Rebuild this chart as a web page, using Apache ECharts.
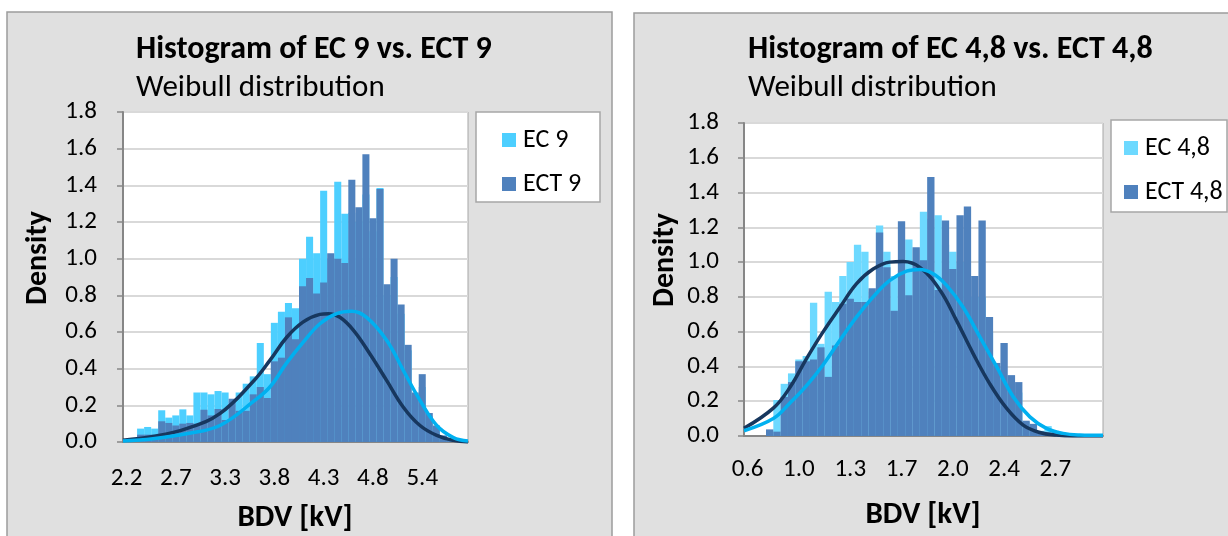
<!DOCTYPE html>
<html>
<head>
<meta charset="utf-8">
<script src="https://cdn.jsdelivr.net/npm/echarts@6/dist/echarts.min.js"></script>
<style>
  html, body { margin: 0; padding: 0; background: #fff; }
  #main { width: 1228px; height: 536px; }
</style>
</head>
<body>
<div id="main"></div>
<script>
// ---- left chart: EC 9 vs ECT 9 ----
var binsEC9 = ['2.2','2.3','2.4','2.4','2.5','2.6','2.7','2.7','2.8','2.9','3.0','3.0','3.1','3.2','3.3','3.3','3.4',
  '3.5','3.6','3.6','3.7','3.8','3.9','3.9','4.0','4.1','4.2','4.2','4.3','4.4','4.5','4.5','4.6','4.7','4.8','4.8',
  '4.9','5.0','5.1','5.2','5.2','5.3','5.4','5.5','5.5','5.6','5.7','5.8','5.8'];
var ec9 = [0.01,0.02,0.073,0.082,0.073,0.173,0.133,0.145,0.178,0.145,0.27,0.27,0.26,0.278,0.27,0.22,0.27,
  0.318,0.358,0.54,0.37,0.65,0.71,0.758,0.73,1.0,1.12,1.03,1.37,1.0,1.42,1.245,1.25,1.2,1.35,1.15,
  1.385,0.8,0.9,0.7,0.5,0.25,0.3,0.14,0.08,0.03,0.015,0.008,0.004];
var ect9 = [0.01,0.02,0.04,0.04,0.04,0.113,0.104,0.09,0.1,0.104,0.1,0.176,0.145,0.18,0.12,0.236,0.17,
  0.17,0.26,0.30,0.24,0.44,0.46,0.68,0.56,0.85,0.895,0.81,0.87,1.03,1.0,0.976,1.43,1.28,1.57,1.22,
  1.38,0.86,1.0,0.75,0.53,0.27,0.37,0.158,0.09,0.036,0.018,0.01,0.005];
var fitEC9 = [[2.162,0.005],[2.485,0.018],[2.844,0.045],[3.203,0.09],[3.561,0.22],[3.741,0.30],[3.92,0.43],
  [4.10,0.545],[4.279,0.645],[4.458,0.70],[4.62,0.713],[4.781,0.68],[4.996,0.555],[5.176,0.39],[5.355,0.227],
  [5.535,0.09],[5.714,0.024],[5.871,0.005]];
var fitECT9 = [[2.162,0.01],[2.485,0.03],[2.844,0.073],[3.203,0.155],[3.561,0.33],[3.741,0.445],[3.92,0.57],
  [4.10,0.655],[4.279,0.696],[4.369,0.70],[4.494,0.68],[4.638,0.61],[4.817,0.48],[4.996,0.336],[5.176,0.19],
  [5.355,0.09],[5.535,0.036],[5.714,0.009],[5.871,0.0]];
var edgesEC9 = [2.162, 5.871];

// ---- right chart: EC 4,8 vs ECT 4,8 ----
var binsEC48 = ['0.6','0.7','0.7','0.8','0.8','0.9','0.9','1.0','1.0','1.1','1.1','1.2','1.2','1.3','1.3','1.4','1.4',
  '1.5','1.5','1.6','1.6','1.7','1.7','1.8','1.8','1.9','1.9','2.0','2.0','2.1','2.1','2.2','2.2','2.3','2.3','2.4',
  '2.4','2.5','2.5','2.6','2.6','2.7','2.7','2.8','2.8','2.9','2.9','3.0','3.0'];
var ec48 = [0,0,0,0.03,0.207,0.30,0.36,0.44,0.46,0.767,0.53,0.83,0.77,0.92,1.0,1.10,1.06,
  0.83,1.21,1.06,0.92,0.95,1.13,1.0,1.29,1.25,1.27,1.1,1.06,1.0,0.9,0.8,0.8,0.6,0.4,0.35,
  0.3,0.25,0.08,0.05,0.03,0.057,0.03,0.02,0.01,0.005,0.003,0,0];
var ect48 = [0,0,0,0.038,0.025,0.225,0.31,0.43,0.43,0.44,0.51,0.34,0.52,0.76,0.79,0.77,0.77,
  0.85,1.17,0.97,0.72,1.235,0.81,1.086,1.01,1.49,0.84,1.24,0.96,1.27,1.32,0.92,1.24,0.685,0.42,0.535,
  0.35,0.31,0.088,0.07,0.025,0.02,0.025,0.01,0.005,0,0,0,0];
var fitEC48 = [[0.575,0.03],[0.777,0.10],[0.892,0.19],[1.006,0.29],[1.121,0.41],[1.236,0.55],[1.351,0.685],
  [1.465,0.80],[1.58,0.895],[1.695,0.948],[1.787,0.958],[1.879,0.933],[1.971,0.866],[2.085,0.74],[2.2,0.57],
  [2.315,0.40],[2.43,0.226],[2.545,0.11],[2.659,0.044],[2.774,0.015],[2.889,0.006],[3.049,0.004]];
var fitECT48 = [[0.575,0.044],[0.777,0.16],[0.892,0.28],[1.006,0.445],[1.121,0.6],[1.236,0.74],[1.351,0.876],
  [1.465,0.96],[1.58,1.0],[1.672,1.004],[1.787,0.97],[1.925,0.84],[2.039,0.665],[2.154,0.474],[2.269,0.30],
  [2.384,0.16],[2.499,0.063],[2.613,0.02],[2.728,0.005],[2.843,0.0],[3.049,0]];
var edgesEC48 = [0.575, 3.049];

var FONT = 'Carlito, Lato, sans-serif';
var axisGray = '#868686';

var chart = echarts.init(document.getElementById('main'));

function catAxis(grid, data, margin) {
  return {
    type: 'category', gridIndex: grid, data: data,
    axisLine: { lineStyle: { color: axisGray, width: 2 } },
    axisTick: { interval: 0, length: 6, lineStyle: { color: axisGray, width: 1.5 } },
    axisLabel: { interval: 6, margin: margin, color: '#000', fontSize: 25, fontFamily: FONT },
    splitLine: { show: false }
  };
}
function fitAxis(grid, edges) {
  return { type: 'value', gridIndex: grid, min: edges[0], max: edges[1], show: false };
}
function densAxis(grid, margin) {
  return {
    type: 'value', gridIndex: grid, min: 0, max: 1.8, interval: 0.2,
    axisLine: { show: true, lineStyle: { color: axisGray, width: 2 } },
    axisTick: { show: true, length: 6, lineStyle: { color: axisGray, width: 1.5 } },
    axisLabel: { margin: margin, color: '#000', fontSize: 25, fontFamily: FONT,
      formatter: function (v) { return v.toFixed(1); } },
    splitLine: { lineStyle: { color: '#D9D9D9', width: 2 } }
  };
}
function bars(name, data, x, y, color) {
  return { name: name, type: 'bar', xAxisIndex: x, yAxisIndex: y, data: data,
    barWidth: '100%', barGap: '-100%', itemStyle: { color: color } };
}
function fit(name, data, x, y, color) {
  return { name: name, type: 'line', xAxisIndex: x, yAxisIndex: y, data: data, smooth: 0.4,
    showSymbol: false, lineStyle: { color: color, width: 3.5 }, z: 3 };
}
function txt(x, y, text, size, weight, rot) {
  return { type: 'text', x: x, y: y, rotation: rot || 0, z: 100,
    style: { text: text, fill: '#000', font: weight + ' ' + size + 'px ' + FONT,
      textAlign: rot ? 'center' : 'left', textVerticalAlign: 'middle' } };
}
function legend(names, left, top) {
  return { data: names, orient: 'vertical', left: left, top: top, itemGap: 18, z: 60,
    itemWidth: 14, itemHeight: 14, icon: 'rect', selectedMode: false,
    textStyle: { fontSize: 26, fontFamily: FONT, color: '#000', padding: [0, 0, 0, 2] } };
}

chart.setOption({
  animation: false,
  backgroundColor: '#fff',
  graphic: [
    { type: 'rect', shape: { x: 7, y: 12, width: 605, height: 540 }, z: -10,
      style: { fill: '#E0E0E0', stroke: '#9C9C9C', lineWidth: 1.5 } },
    { type: 'rect', shape: { x: 634, y: 13, width: 600, height: 540 }, z: -10,
      style: { fill: '#E0E0E0', stroke: '#9C9C9C', lineWidth: 1.5 } },
    { type: 'rect', shape: { x: 476, y: 112, width: 124, height: 90 }, z: 50,
      style: { fill: '#fff', stroke: '#A6A6A6', lineWidth: 1.5 } },
    { type: 'rect', shape: { x: 1111, y: 120, width: 116, height: 92 }, z: 50,
      style: { fill: '#fff', stroke: '#A6A6A6', lineWidth: 1.5 } },
    txt(136, 50, 'Histogram of EC 9 vs. ECT 9', 32, 'bold'),
    txt(136, 88, 'Weibull distribution', 31, 'normal'),
    txt(748, 50, 'Histogram of EC 4,8 vs. ECT 4,8', 32, 'bold'),
    txt(748, 88, 'Weibull distribution', 31, 'normal'),
    txt(38, 258, 'Density', 30, 'bold', Math.PI / 2),
    txt(665, 260, 'Density', 30, 'bold', Math.PI / 2),
    { type: 'text', x: 295, y: 518, z: 100, style: { text: 'BDV [kV]', fill: '#000',
      font: 'bold 31px ' + FONT, textAlign: 'center', textVerticalAlign: 'middle' } },
    { type: 'text', x: 923, y: 515, z: 100, style: { text: 'BDV [kV]', fill: '#000',
      font: 'bold 31px ' + FONT, textAlign: 'center', textVerticalAlign: 'middle' } }
  ],
  legend: [
    legend(['EC 9', 'ECT 9'], 497, 122),
    legend(['EC 4,8', 'ECT 4,8'], 1119, 130)
  ],
  grid: [
    { left: 123, top: 112, width: 345, height: 330, show: true, backgroundColor: '#fff',
      borderColor: '#A6A6A6', borderWidth: 1 },
    { left: 744, top: 123, width: 359, height: 313, show: true, backgroundColor: '#fff',
      borderColor: '#A6A6A6', borderWidth: 1 }
  ],
  xAxis: [
    catAxis(0, binsEC9, 24),
    fitAxis(0, edgesEC9),
    catAxis(1, binsEC48, 21),
    fitAxis(1, edgesEC48)
  ],
  yAxis: [
    densAxis(0, 26),
    densAxis(1, 25)
  ],
  series: [
    bars('EC 9', ec9, 0, 0, '#4DCFFF'),
    bars('ECT 9', ect9, 0, 0, '#4F81BD'),
    fit('Fit ECT 9', fitECT9, 1, 0, '#17375E'),
    fit('Fit EC 9', fitEC9, 1, 0, '#00B0F0'),
    bars('EC 4,8', ec48, 2, 1, '#6DD9FF'),
    bars('ECT 4,8', ect48, 2, 1, '#4F81BD'),
    fit('Fit ECT 4,8', fitECT48, 3, 1, '#17375E'),
    fit('Fit EC 4,8', fitEC48, 3, 1, '#00B0F0')
  ]
});
</script>
</body>
</html>
